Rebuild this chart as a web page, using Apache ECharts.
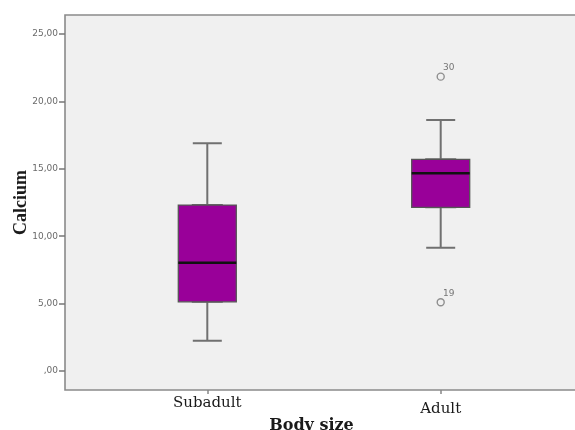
<!DOCTYPE html>
<html>
<head>
<meta charset="utf-8">
<script src="https://cdn.jsdelivr.net/npm/echarts@6/dist/echarts.min.js"></script>
<style>html,body{margin:0;padding:0;background:#fff}#c{width:575px;height:430px}</style>
</head>
<body>
<div id="c"></div>
<script>
// ---- data ----
var categories = ['Subadult', 'Adult'];
// [min whisker, Q1, median, Q3, max whisker]
var subadultStats = [2.25, 5.14, 8.03, 12.31, 16.89];
var adultStats = [9.15, 12.14, 14.66, 15.70, 18.62];
var outlierCategory = [1, 1];
var outlierValues = [21.83, 5.10];
var outlierIds = ['30', '19'];
var yTickValues = [0, 5, 10, 15, 20, 25];

var stats = [subadultStats, adultStats];
var boxData = stats.map(function (s) { return [s[1], s[1], s[2], s[3], s[3]]; });
var medianData = stats.map(function (s) { return [s[2], s[2], s[2], s[2], s[2]]; });
var outlierData = outlierValues.map(function (v, i) {
  return { value: [outlierCategory[i], v], label: { formatter: outlierIds[i] } };
});

function fmt(v) {
  if (v === 0) return ',00';
  return v.toFixed(2).replace('.', ',');
}

var chart = echarts.init(document.getElementById('c'), null, { renderer: 'canvas' });
var yMin = -1.4, yMax = 26.4;
chart.setOption({
  animation: false,
  backgroundColor: '#ffffff',
  grid: [
    { left: 65, top: 15, bottom: 40, right: -30, show: true, backgroundColor: '#f0f0f0',
      borderColor: '#8a8a8a', borderWidth: 1.6, outerBoundsMode: 'none', containLabel: false },
    { left: 90.6, right: 17.6, top: 15, bottom: 40, outerBoundsMode: 'none', containLabel: false }
  ],
  xAxis: [
    { type: 'value', gridIndex: 0, min: 0, max: 1, show: false },
    { type: 'category', gridIndex: 1, position: 'bottom', data: [
        categories[0],
        { value: categories[1], textStyle: { padding: [6, 0, 0, 0] } }
      ],
      axisLine: { show: false, onZero: false },
      axisTick: { show: true, alignWithLabel: true, length: 4, lineStyle: { color: '#888', width: 1.5 } },
      axisLabel: { margin: 6, color: '#1a1a1a', fontFamily: 'DejaVu Serif', fontSize: 15 },
      name: 'Body size', nameLocation: 'middle', nameGap: 28, nameMoveOverlap: false,
      nameTextStyle: { fontFamily: 'DejaVu Serif', fontWeight: 'bold', fontSize: 16, color: '#1a1a1a', padding: [0, 25, 0, 0] }
    },
    { type: 'category', gridIndex: 1, data: categories, show: false, axisLine: { onZero: false } },
    { type: 'category', gridIndex: 1, data: categories, show: false, axisLine: { onZero: false } }
  ],
  yAxis: [
    { type: 'value', gridIndex: 0, min: yMin, max: yMax,
      axisLine: { show: false, onZero: false },
      splitLine: { show: false },
      axisTick: { show: true, length: 6, customValues: yTickValues, lineStyle: { color: '#777', width: 1.5 } },
      axisLabel: { margin: 7, customValues: yTickValues, formatter: fmt, color: '#6a6a6a', fontSize: 9, fontFamily: 'DejaVu Sans' },
      name: 'Calcium', nameLocation: 'middle', nameGap: 35, nameMoveOverlap: false,
      nameTextStyle: { fontFamily: 'Liberation Serif', fontWeight: 'bold', fontSize: 18, color: '#1a1a1a' }
    },
    { type: 'value', gridIndex: 1, min: yMin, max: yMax, show: false, splitLine: { show: false } }
  ],
  series: [
    { type: 'boxplot', name: 'whiskers', xAxisIndex: 1, yAxisIndex: 1, data: stats,
      boxWidth: [29, 29],
      itemStyle: { color: 'transparent', borderColor: '#707070', borderWidth: 2 },
      silent: true },
    { type: 'boxplot', name: 'box', xAxisIndex: 2, yAxisIndex: 1, data: boxData,
      boxWidth: [58, 58],
      itemStyle: { color: '#990099', borderColor: '#555555', borderWidth: 1.3 },
      silent: true },
    { type: 'boxplot', name: 'median', xAxisIndex: 3, yAxisIndex: 1, data: medianData,
      boxWidth: [58, 58],
      itemStyle: { color: 'transparent', borderColor: '#111111', borderWidth: 2.5 },
      silent: true },
    { type: 'scatter', name: 'outliers', xAxisIndex: 1, yAxisIndex: 1, data: outlierData,
      symbol: 'circle', symbolSize: 7,
      itemStyle: { color: 'transparent', borderColor: '#777', borderWidth: 1.4 },
      label: { show: true, position: 'right', distance: 0, offset: [-2, -9], color: '#555', fontSize: 9, fontFamily: 'DejaVu Sans' },
      silent: true }
  ]
});
</script>
</body>
</html>
